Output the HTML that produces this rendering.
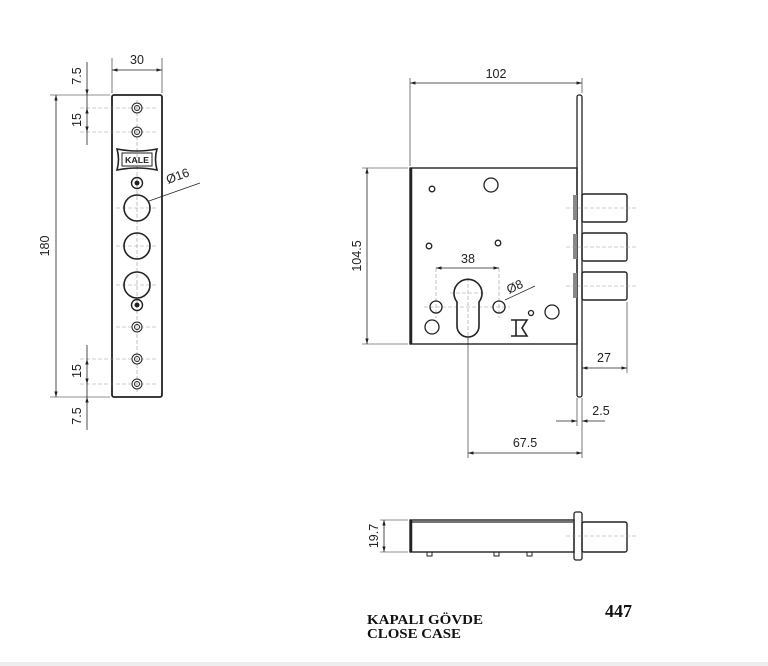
<!DOCTYPE html>
<html><head><meta charset="utf-8"><style>
html,body{margin:0;padding:0;background:#fff;width:768px;height:666px;overflow:hidden}
svg{display:block}
text{font-family:"Liberation Sans",sans-serif;font-size:12.5px;fill:#222}
.s{font-family:"Liberation Serif",serif;font-weight:bold;fill:#111}
</style></head><body>
<svg width="768" height="666" viewBox="0 0 768 666" xmlns="http://www.w3.org/2000/svg">
<defs>
<marker id="a" viewBox="0 0 10 10" refX="10" refY="5" markerWidth="7" markerHeight="7" orient="auto-start-reverse"><path d="M0,2 L10,5 L0,8z" fill="#222"/></marker>
</defs>
<rect x="0" y="662" width="768" height="4" fill="#eee"/>
<g stroke="#222" fill="none" stroke-width="0.8">
<!-- LEFT PLATE -->
<rect x="112" y="95" width="50" height="302" rx="2" stroke-width="1.8"/>
<g stroke="#999" stroke-dasharray="4,2" stroke-width="0.6">
<line x1="137" y1="100" x2="137" y2="392"/>
<line x1="80" y1="108" x2="158" y2="108"/><line x1="80" y1="132" x2="158" y2="132"/>
<line x1="80" y1="359" x2="158" y2="359"/><line x1="80" y1="384" x2="158" y2="384"/>
<line x1="116" y1="208" x2="158" y2="208"/><line x1="116" y1="246" x2="158" y2="246"/><line x1="116" y1="285" x2="158" y2="285"/>
<line x1="116" y1="327" x2="158" y2="327"/>
</g>
<g stroke-width="1">
<circle cx="137" cy="108" r="5"/><circle cx="137" cy="108" r="2.5"/>
<circle cx="137" cy="132" r="5"/><circle cx="137" cy="132" r="2.5"/>
<circle cx="137" cy="327" r="5"/><circle cx="137" cy="327" r="2.5"/>
<circle cx="137" cy="359" r="5"/><circle cx="137" cy="359" r="2.5"/>
<circle cx="137" cy="384" r="5"/><circle cx="137" cy="384" r="2.5"/>
<circle cx="137" cy="183" r="5.5" stroke-width="1.4"/><circle cx="137" cy="183" r="2" fill="#222"/>
<circle cx="137" cy="305" r="5.5" stroke-width="1.4"/><circle cx="137" cy="305" r="2" fill="#222"/>
</g>
<circle cx="137" cy="208" r="13" stroke-width="1.6"/>
<circle cx="137" cy="246" r="13" stroke-width="1.6"/>
<circle cx="137" cy="285" r="13" stroke-width="1.6"/>
<path d="M117,149 Q137,153 157,149 Q154,159 157,170 Q137,166 117,170 Q120,159 117,149z" stroke-width="1.6"/>
<rect x="122" y="153" width="30" height="13" stroke-width="1"/>
<line x1="149" y1="201" x2="200" y2="183" stroke-width="0.7"/>
<!-- left dims -->
<line x1="112" y1="58" x2="112" y2="93" stroke-width="0.6"/><line x1="162" y1="58" x2="162" y2="93" stroke-width="0.6"/>
<line x1="112" y1="70" x2="162" y2="70" marker-start="url(#a)" marker-end="url(#a)"/>
<line x1="50" y1="95" x2="110" y2="95" stroke-width="0.6"/><line x1="50" y1="397" x2="110" y2="397" stroke-width="0.6"/>
<line x1="56" y1="95" x2="56" y2="397" marker-start="url(#a)" marker-end="url(#a)"/>
<line x1="87" y1="62" x2="87" y2="95" marker-end="url(#a)"/>
<line x1="87" y1="108" x2="87" y2="132" marker-start="url(#a)" marker-end="url(#a)"/>
<line x1="87" y1="95" x2="87" y2="108"/>
<line x1="87" y1="132" x2="87" y2="145"/>
<line x1="87" y1="345" x2="87" y2="359"/>
<line x1="87" y1="359" x2="87" y2="384" marker-start="url(#a)" marker-end="url(#a)"/>
<line x1="87" y1="384" x2="87" y2="397"/>
<line x1="87" y1="430" x2="87" y2="397" marker-end="url(#a)"/>
<!-- MAIN BODY -->
<rect x="410" y="168" width="167" height="176" stroke-width="1.4"/>
<line x1="411" y1="168" x2="411" y2="344" stroke-width="2.5"/>
<rect x="577" y="95" width="5" height="302" rx="2" stroke-width="1.3"/>
<rect x="582" y="194" width="45" height="28" rx="2" stroke-width="1.4"/>
<rect x="582" y="233" width="45" height="28" rx="2" stroke-width="1.4"/>
<rect x="582" y="272" width="45" height="28" rx="2" stroke-width="1.4"/>
<rect x="573" y="195" width="4" height="25" fill="#888" stroke="none"/>
<rect x="573" y="234" width="4" height="25" fill="#888" stroke="none"/>
<rect x="573" y="273" width="4" height="25" fill="#888" stroke="none"/>
<g stroke="#999" stroke-dasharray="4,2" stroke-width="0.6">
<line x1="566" y1="208" x2="636" y2="208"/><line x1="566" y1="247" x2="636" y2="247"/><line x1="566" y1="286" x2="636" y2="286"/>
<line x1="424" y1="307" x2="510" y2="307"/><line x1="450" y1="293" x2="487" y2="293"/>
<line x1="468" y1="278" x2="468" y2="340"/>
<line x1="436" y1="268" x2="436" y2="318"/><line x1="499" y1="268" x2="499" y2="318"/>
</g>
<g stroke-width="1.3">
<circle cx="432" cy="189" r="2.8"/><circle cx="491" cy="185" r="7"/>
<circle cx="429" cy="246" r="2.8"/><circle cx="498" cy="243" r="2.8"/>
<circle cx="436" cy="307" r="6"/><circle cx="499" cy="307" r="6"/>
<circle cx="432" cy="327" r="7"/>
<circle cx="531" cy="313" r="2.5"/><circle cx="552" cy="312" r="7"/>
<path d="M457,302 A14,14 0 1 1 479,302 L479,326 A11,11 0 0 1 457,326 Z" stroke-width="1.6"/>
<path d="M511,320 L527,320 L522,328 L527,336 L511,336 M516,320 L516,336" stroke-width="1.6"/>
</g>
<line x1="505" y1="300" x2="535" y2="286" stroke-width="0.7"/>
<!-- main dims -->
<line x1="410" y1="78" x2="410" y2="166" stroke-width="0.6"/><line x1="582" y1="78" x2="582" y2="93" stroke-width="0.6"/>
<line x1="410" y1="83" x2="582" y2="83" marker-start="url(#a)" marker-end="url(#a)"/>
<line x1="362" y1="168" x2="408" y2="168" stroke-width="0.6"/><line x1="362" y1="344" x2="408" y2="344" stroke-width="0.6"/>
<line x1="367" y1="168" x2="367" y2="344" marker-start="url(#a)" marker-end="url(#a)"/>
<line x1="436" y1="268" x2="499" y2="268" marker-start="url(#a)" marker-end="url(#a)"/>
<line x1="627" y1="302" x2="627" y2="373" stroke-width="0.6"/>
<line x1="582" y1="368" x2="627" y2="368" marker-start="url(#a)" marker-end="url(#a)"/>
<line x1="577" y1="398" x2="577" y2="426" stroke-width="0.6"/><line x1="582" y1="398" x2="582" y2="458" stroke-width="0.6"/>
<line x1="556" y1="421" x2="577" y2="421" marker-end="url(#a)"/>
<line x1="605" y1="421" x2="582" y2="421" marker-end="url(#a)"/>
<line x1="468" y1="337" x2="468" y2="458" stroke-width="0.6"/>
<line x1="468" y1="453" x2="582" y2="453" marker-start="url(#a)" marker-end="url(#a)"/>
<!-- SIDE VIEW -->
<rect x="410" y="520" width="164" height="32" stroke-width="1.4"/>
<line x1="411" y1="520" x2="411" y2="552" stroke-width="2.5"/>
<line x1="412" y1="522" x2="573" y2="522" stroke-width="1.2"/>
<rect x="574" y="512" width="8" height="48" rx="2" stroke-width="1.3"/>
<rect x="582" y="522" width="45" height="30" rx="2" stroke-width="1.4"/>
<line x1="566" y1="536" x2="636" y2="536" stroke="#999" stroke-dasharray="4,2" stroke-width="0.6"/>
<rect x="427" y="552" width="5" height="4" stroke-width="1"/>
<rect x="494" y="552" width="5" height="4" stroke-width="1"/>
<rect x="527" y="552" width="5" height="4" stroke-width="1"/>
<line x1="380" y1="520" x2="408" y2="520" stroke-width="0.6"/><line x1="380" y1="552" x2="408" y2="552" stroke-width="0.6"/>
<line x1="384" y1="520" x2="384" y2="552" marker-start="url(#a)" marker-end="url(#a)"/>
</g>
<!-- texts -->
<text x="137" y="64" text-anchor="middle">30</text>
<text transform="translate(49,246) rotate(-90)" text-anchor="middle">180</text>
<text transform="translate(81,76) rotate(-90)" text-anchor="middle">7.5</text>
<text transform="translate(81,120) rotate(-90)" text-anchor="middle">15</text>
<text transform="translate(81,371) rotate(-90)" text-anchor="middle">15</text>
<text transform="translate(81,416) rotate(-90)" text-anchor="middle">7.5</text>
<text transform="translate(168,184) rotate(-20)">Ø16</text>
<text x="137" y="163" text-anchor="middle" style="font-size:8px;font-weight:bold" textLength="24" lengthAdjust="spacingAndGlyphs">KALE</text>
<text x="496" y="78" text-anchor="middle">102</text>
<text transform="translate(361,256) rotate(-90)" text-anchor="middle">104.5</text>
<text x="468" y="263" text-anchor="middle">38</text>
<text transform="translate(509,294) rotate(-25)">Ø8</text>
<text x="604" y="362" text-anchor="middle">27</text>
<text x="601" y="415" text-anchor="middle">2.5</text>
<text x="525" y="447" text-anchor="middle">67.5</text>
<text transform="translate(378,536) rotate(-90)" text-anchor="middle">19.7</text>
<text class="s" x="367" y="624" style="font-size:13.5px" textLength="116" lengthAdjust="spacingAndGlyphs">KAPALI GÖVDE</text>
<text class="s" x="367" y="638" style="font-size:13.5px" textLength="94" lengthAdjust="spacingAndGlyphs">CLOSE CASE</text>
<text class="s" x="605" y="617" style="font-size:18px">447</text>
</svg>
</body></html>
